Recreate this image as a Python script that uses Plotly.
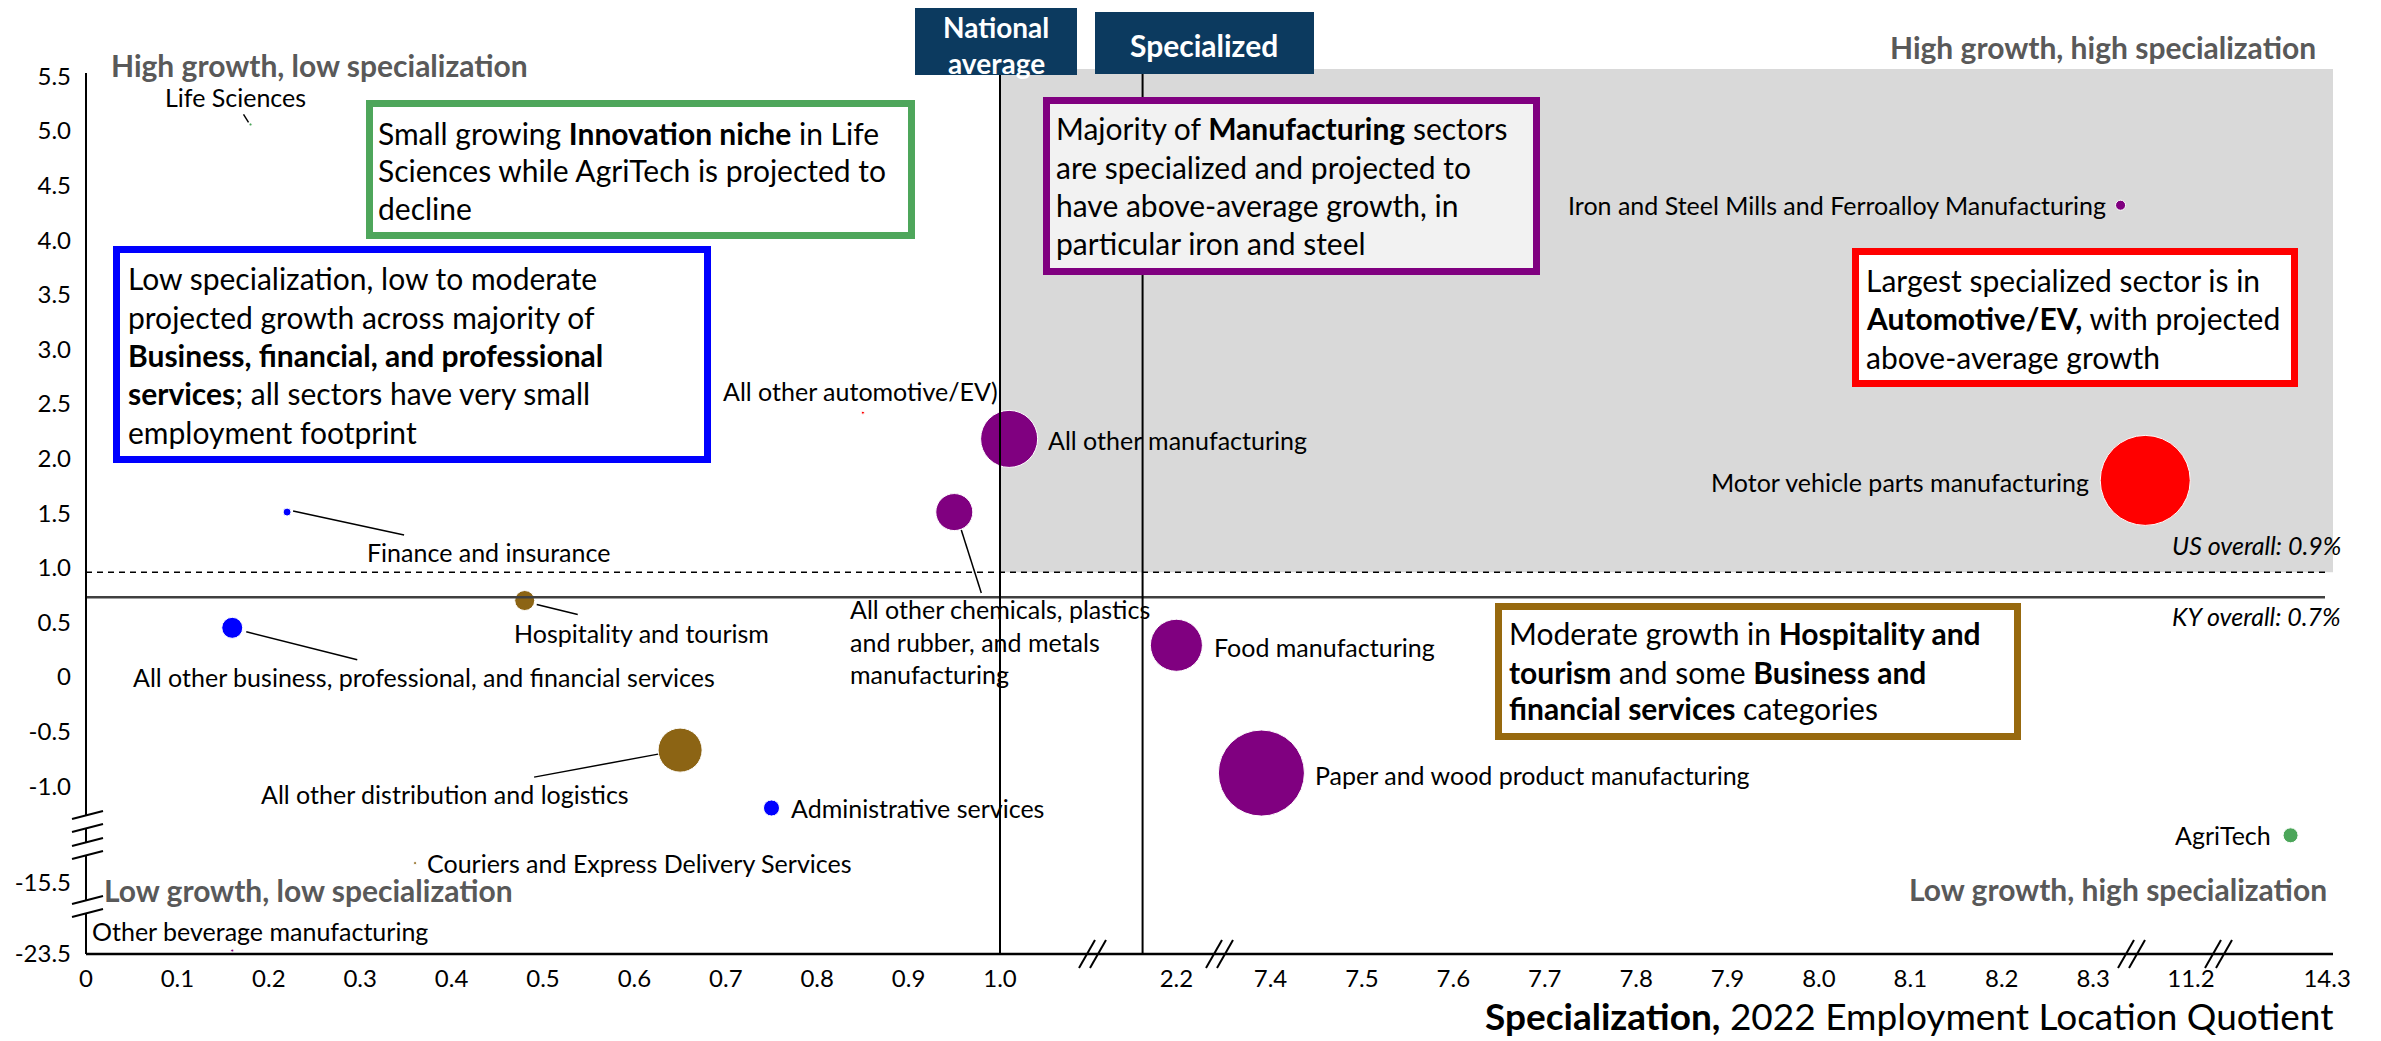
import plotly.graph_objects as go

# The page adds an 8px body margin; work in reference-page pixels and shift.
OFF = 8
W, H = 2381 - 2 * OFF, 1041 - OFF
PL, PR, PT, PB = 86, 2333, 69, 954          # plot area in reference-page px
FONT = "Lato"

# ---------------- data ----------------
sectors = [
    "Life Sciences", "Finance and insurance",
    "All other business, professional, and financial services",
    "Hospitality and tourism", "All other distribution and logistics",
    "Administrative services", "Couriers and Express Delivery Services",
    "Other beverage manufacturing", "All other automotive/EV)",
    "All other manufacturing",
    "All other chemicals, plastics<br>and rubber, and metals<br>manufacturing",
    "Food manufacturing", "Paper and wood product manufacturing",
    "Iron and Steel Mills and Ferroalloy Manufacturing",
    "Motor vehicle parts manufacturing", "AgriTech",
]
groups = [
    "innovation", "business", "business", "distribution", "distribution",
    "business", "distribution", "manufacturing", "automotive",
    "manufacturing", "manufacturing", "manufacturing", "manufacturing",
    "manufacturing", "automotive", "innovation",
]
lq_2022 = [0.18, 0.22, 0.16, 0.48, 0.65, 0.75, 0.36, 0.16, 0.85, 1.01,
           0.95, 2.20, 7.39, 8.33, 11.15, 14.26]
growth_pct = [5.06, 1.51, 0.45, 0.70, -0.67, -1.20, -15.32, -23.47, 2.42,
              2.18, 1.51, 0.29, -0.88, 4.32, 1.80, -1.45]
employment = [40, 280, 1960, 1780, 8620, 1140, 40, 40, 40, 14460,
              6090, 12030, 32900, 450, 36000, 1000]

x_tick_values = [0, 0.1, 0.2, 0.3, 0.4, 0.5, 0.6, 0.7, 0.8, 0.9, 1.0, 2.2,
                 7.4, 7.5, 7.6, 7.7, 7.8, 7.9, 8.0, 8.1, 8.2, 8.3, 11.2, 14.3]
y_tick_values = [5.5, 5.0, 4.5, 4.0, 3.5, 3.0, 2.5, 2.0, 1.5, 1.0, 0.5, 0,
                 -0.5, -1.0, -15.5, -23.5]

NATIONAL_AVG_LQ = 1.0
SPECIALIZED_LQ = 1.156
US_OVERALL = 0.96
KY_OVERALL = 0.73

# ---------------- broken-axis scales ----------------
X_SEG_START = [-1e9, 1.6, 5.0, 10.0, 13.0]
X_SEG_VALUE = [0.0, 2.2, 7.4, 11.2, 14.3]
X_SEG_POS = [0.0, 1.193, 1.296, 2.303, 2.452]


def xpos(v):
    i = max(k for k, s in enumerate(X_SEG_START) if v >= s)
    return X_SEG_POS[i] + (v - X_SEG_VALUE[i])


Y_SEG_START = [-5.0, -20.0, -1e9]
Y_SEG_VALUE = [0.0, -15.5, -23.5]
Y_SEG_POS = [0.0, -1.884, -2.535]


def ypos(v):
    for s, val, p in zip(Y_SEG_START, Y_SEG_VALUE, Y_SEG_POS):
        if v >= s:
            return p + (v - val)


X_RANGE = [0, (PR - PL) / 914.0]
Y_RANGE = [-2.537, -2.537 + (PB - PT) / 109.2]


def px_x(px):
    return (px - PL) / (PR - PL)


def px_y(py):
    return (PB - py) / (PB - PT)


COLORS = {"automotive": "#FF0000", "manufacturing": "#800080",
          "business": "#0000FF", "distribution": "#8C6414",
          "innovation": "#4CA65A"}

# label placement (anchor, dx, dy) and leader lines in pixels, up = +
LABEL_STYLE = {
    "Life Sciences": ("center", -15, 27, (-2, 2, -7, 10)),
    "Finance and insurance": ("left", 78, -40, (6, 1, 117, -23)),
    "All other business, professional, and financial services": ("left", -101, -49, (14, -4, 125, -32)),
    "Hospitality and tourism": ("left", -13, -32, (12, -4, 53, -14)),
    "All other distribution and logistics": ("center", -235, -44, (-22, -4, -146, -27)),
    "Administrative services": ("left", 17, 0, None),
    "Couriers and Express Delivery Services": ("left", 10, 0, None),
    "Other beverage manufacturing": ("left", -142, 20, None),
    "All other automotive/EV)": ("center", -2, 22, None),
    "All other manufacturing": ("left", 37, -1, None),
    "All other chemicals, plastics<br>and rubber, and metals<br>manufacturing": ("left", -106, -129, (7, -18, 27, -81)),
    "Food manufacturing": ("left", 36, -2, None),
    "Paper and wood product manufacturing": ("left", 52, -2, None),
    "Iron and Steel Mills and Ferroalloy Manufacturing": ("right", -13, 0, None),
    "Motor vehicle parts manufacturing": ("right", -54, -2, None),
    "AgriTech": ("right", -18, 0, None),
}

xs = [xpos(v) for v in lq_2022]
ys = [ypos(v) for v in growth_pct]

fig = go.Figure()
fig.add_trace(go.Scatter(
    x=xs, y=ys, mode="markers", text=sectors, hoverinfo="text",
    marker=dict(size=employment, sizemode="area",
                sizeref=2.0 * max(employment) / 90 ** 2, sizemin=1.5,
                color=[COLORS[g] for g in groups], opacity=1,
                line=dict(color="white", width=1)),
    showlegend=False,
))

shapes = []
annotations = []

# gray high/high quadrant
shapes.append(dict(type="rect", xref="x", yref="y", x0=xpos(NATIONAL_AVG_LQ),
                   x1=X_RANGE[1], y0=ypos(US_OVERALL), y1=Y_RANGE[1],
                   fillcolor="#D9D9D9", line=dict(width=0), layer="below"))

# reference lines
shapes.append(dict(type="line", xref="paper", yref="y", x0=0, x1=px_x(2325),
                   y0=ypos(US_OVERALL), y1=ypos(US_OVERALL),
                   line=dict(color="black", width=1.5, dash="6px,5px"), layer="above"))
shapes.append(dict(type="line", xref="paper", yref="y", x0=0, x1=px_x(2325),
                   y0=ypos(KY_OVERALL), y1=ypos(KY_OVERALL),
                   line=dict(color="#404040", width=2.5), layer="above"))
shapes.append(dict(type="line", xref="x", yref="paper", x0=xpos(NATIONAL_AVG_LQ),
                   x1=xpos(NATIONAL_AVG_LQ), y0=0, y1=px_y(75),
                   line=dict(color="black", width=2), layer="above"))
shapes.append(dict(type="line", xref="x", yref="paper", x0=xpos(SPECIALIZED_LQ),
                   x1=xpos(SPECIALIZED_LQ), y0=0, y1=px_y(74),
                   line=dict(color="black", width=2), layer="above"))

# y axis with breaks
for a, b in [(73, 815), (828, 842), (855, 900), (913, 954)]:
    shapes.append(dict(type="line", xref="paper", yref="paper", x0=0, x1=0,
                       y0=px_y(a), y1=px_y(b), line=dict(color="black", width=2)))
for yy in [815, 828, 842, 855, 900, 913]:
    shapes.append(dict(type="line", xref="paper", yref="paper",
                       x0=px_x(PL - 14), x1=px_x(PL + 17),
                       y0=px_y(yy + 4), y1=px_y(yy - 4),
                       line=dict(color="black", width=2)))
# x axis
shapes.append(dict(type="line", xref="paper", yref="paper", x0=0, x1=1,
                   y0=0, y1=0, line=dict(color="black", width=2.5)))
for bx in [1092, 1219, 2131, 2218]:
    for c in (bx - 5, bx + 6):
        shapes.append(dict(type="line", xref="paper", yref="paper",
                           x0=px_x(c - 8), x1=px_x(c + 8),
                           y0=px_y(968), y1=px_y(940),
                           line=dict(color="black", width=2)))

# leader lines and point labels
for name, x, y in zip(sectors, xs, ys):
    anchor, dx, dy, lead = LABEL_STYLE[name]
    if lead:
        shapes.append(dict(type="line", xref="x", yref="y", xsizemode="pixel",
                           ysizemode="pixel", xanchor=x, yanchor=y,
                           x0=lead[0], y0=lead[1], x1=lead[2], y1=lead[3],
                           line=dict(color="black", width=1.5)))
    annotations.append(dict(xref="x", yref="y", x=x, y=y, xshift=dx, yshift=dy,
                            text=name, showarrow=False, xanchor=anchor,
                            yanchor="middle", align="left",
                            font=dict(family=FONT, size=25, color="black")))

# framed commentary boxes
BOXES = [
    ((366, 100, 915, 239), "#4EA65B", "white", 376,
     [(133, "Small growing <b>Innovation niche</b> in Life"),
      (170, "Sciences while AgriTech is projected to"),
      (208, "decline")]),
    ((113, 246, 711, 463), "#0000FF", "white", 126,
     [(278, "Low specialization, low to moderate"),
      (317, "projected growth across majority of"),
      (355, "<b>Business, financial, and professional</b>"),
      (393, "<b>services</b>; all sectors have very small"),
      (432, "employment footprint")]),
    ((1043, 97, 1540, 275), "#800080", "#F2F2F2", 1054,
     [(128, "Majority of <b>Manufacturing</b> sectors"),
      (167, "are specialized and projected to"),
      (205, "have above-average growth, in"),
      (243, "particular iron and steel")]),
    ((1852, 248, 2298, 387), "#FF0000", "white", 1864,
     [(280, "Largest specialized sector is in"),
      (318, "<b>Automotive/EV,</b> with projected"),
      (357, "above-average growth")]),
    ((1495, 603, 2021, 740), "#97690E", "white", 1507,
     [(633, "Moderate growth in <b>Hospitality and</b>"),
      (672, "<b>tourism</b> and some <b>Business and</b>"),
      (708, "<b>financial services</b> categories")]),
]
for (x0, y0, x1, y1), col, fill, tx, lines in BOXES:
    shapes.append(dict(type="rect", xref="paper", yref="paper",
                       x0=px_x(x0 + 3.5), x1=px_x(x1 - 3.5),
                       y0=px_y(y0 + 3.5), y1=px_y(y1 - 3.5),
                       fillcolor=fill, line=dict(color=col, width=7), layer="above"))
    for ty, t in lines:
        annotations.append(dict(xref="paper", yref="paper", x=px_x(tx), y=px_y(ty),
                                text=t, showarrow=False, xanchor="left",
                                yanchor="middle",
                                font=dict(family=FONT, size=30, color="black")))

# header boxes
shapes.append(dict(type="rect", xref="paper", yref="paper", x0=px_x(915), x1=px_x(1077),
                   y0=px_y(6), y1=px_y(75), fillcolor="#0C3A5F", line=dict(width=0),
                   layer="above"))
shapes.append(dict(type="rect", xref="paper", yref="paper", x0=px_x(1095), x1=px_x(1314),
                   y0=px_y(12), y1=px_y(74), fillcolor="#0C3A5F", line=dict(width=0),
                   layer="above"))
for t, cx, cy, fs in [("National", 996, 27, 28), ("average", 996, 63, 28),
                      ("Specialized", 1204, 45, 30)]:
    annotations.append(dict(xref="paper", yref="paper", x=px_x(cx), y=px_y(cy),
                            text=f"<b>{t}</b>", showarrow=False, xanchor="center",
                            yanchor="middle",
                            font=dict(family=FONT, size=fs, color="white")))

# quadrant labels
for t, x, y, anc in [("High growth, low specialization", 109, 65, "left"),
                     ("High growth, high specialization", 2318, 47, "right"),
                     ("Low growth, low specialization", 102, 890, "left"),
                     ("Low growth, high specialization", 2329, 889, "right")]:
    annotations.append(dict(xref="paper", yref="paper", x=px_x(x), y=px_y(y),
                            text=f"<b>{t}</b>", showarrow=False, xanchor=anc,
                            yanchor="middle",
                            font=dict(family=FONT, size=30, color="#595959")))

# overall growth labels
annotations.append(dict(xref="paper", yref="y", x=px_x(2343), y=ypos(US_OVERALL),
                        yshift=27, text="<i>US overall: 0.9%</i>", showarrow=False,
                        xanchor="right", yanchor="middle",
                        font=dict(family=FONT, size=25, color="black")))
annotations.append(dict(xref="paper", yref="y", x=px_x(2343), y=ypos(KY_OVERALL),
                        yshift=-19, text="<i>KY overall: 0.7%</i>", showarrow=False,
                        xanchor="right", yanchor="middle",
                        font=dict(family=FONT, size=25, color="black")))

# axis title
annotations.append(dict(xref="paper", yref="paper", x=px_x(2335), y=px_y(1015),
                        text="<b>Specialization,</b> 2022 Employment Location Quotient",
                        showarrow=False, xanchor="right", yanchor="middle",
                        font=dict(family=FONT, size=37, color="black")))

fig.update_layout(
    width=W, height=H, autosize=False,
    margin=dict(l=PL - OFF, r=W - (PR - OFF), t=PT - OFF, b=H - (PB - OFF), pad=0),
    paper_bgcolor="white", plot_bgcolor="white",
    shapes=shapes, annotations=annotations,
    font=dict(family=FONT, color="black"),
    xaxis=dict(range=X_RANGE, showgrid=False, zeroline=False, showline=False,
               tickvals=[xpos(v) for v in x_tick_values],
               ticktext=["0" if v == 0 else f"{v:.1f}" for v in x_tick_values],
               ticks="", ticklabelstandoff=8, automargin=False,
               tickfont=dict(family=FONT, size=24, color="black")),
    yaxis=dict(range=Y_RANGE, showgrid=False, zeroline=False, showline=False,
               tickvals=[ypos(v) for v in y_tick_values],
               ticktext=["0" if v == 0 else f"{v:.1f}" for v in y_tick_values],
               ticks="", ticklabelstandoff=14, automargin=False,
               tickfont=dict(family=FONT, size=24, color="black")),
)

fig.write_html("out.html")
